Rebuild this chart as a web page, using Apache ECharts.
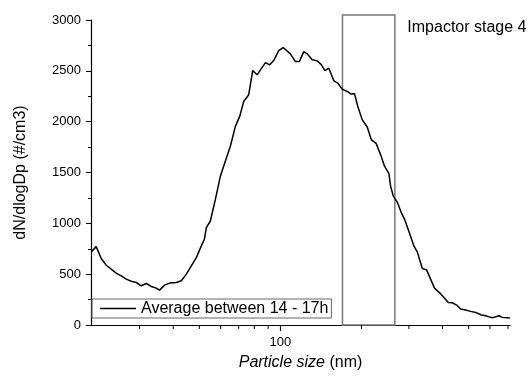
<!DOCTYPE html>
<html>
<head>
<meta charset="utf-8">
<script src="https://cdn.jsdelivr.net/npm/echarts@6/dist/echarts.min.js"></script>
<style>html,body{margin:0;padding:0;background:#fff}#c{width:529px;height:376px}</style>
</head>
<body>
<div id="c"></div>
<script>
// Particle diameters (nm)
const sizes = [19.84, 20.7, 21.61, 22.56, 23.53, 24.56, 25.64, 26.77, 27.93, 29.15, 30.43, 31.76, 33.14, 34.59, 35.58, 37.15, 38.77, 41.06, 42.85, 44.74, 46.69, 48.73, 50.85, 52.2, 53.08, 54.94, 57.35, 59.84, 61.55, 65.18, 68.04, 70.6, 73.06, 76.25, 78.89, 81.92, 87.95, 91.26, 94.43, 98.56, 102.3, 103.5, 108.9, 113.7, 117.6, 122.1, 125.7, 131.2, 137.0, 142.1, 146.2, 151.3, 157.9, 163.3, 169.6, 177.0, 183.2, 188.4, 193.8, 201.2, 210.1, 217.4, 226.9, 235.4, 243.6, 252.8, 256.5, 262.5, 271.6, 281.1, 289.1, 302.5, 313.0, 322.3, 336.4, 349.0, 361.2, 373.8, 391.1, 404.7, 420.2, 434.9, 451.2, 466.9, 487.3, 508.6, 530.9, 554.1, 578.3, 603.6, 620.9, 648.0, 667.1, 696.3, 711.0];
// dN/dlogDp (#/cm3), average between 14 - 17h
const conc = [719, 771, 654, 588, 549, 510, 484, 451, 431, 418, 386, 408, 379, 363, 343, 392, 412, 418, 435, 500, 582, 663, 778, 843, 957, 1023, 1235, 1464, 1562, 1758, 1954, 2052, 2199, 2265, 2503, 2461, 2581, 2559, 2601, 2699, 2729, 2723, 2667, 2591, 2591, 2689, 2667, 2608, 2598, 2559, 2503, 2526, 2402, 2379, 2320, 2297, 2271, 2275, 2150, 2020, 1948, 1824, 1784, 1676, 1562, 1490, 1366, 1268, 1209, 1105, 1039, 892, 778, 719, 556, 542, 451, 360, 314, 271, 222, 219, 196, 157, 147, 134, 124, 101, 91, 75, 75, 91, 75, 72, 70];
const seriesName = 'Average between 14 - 17h';
// x-axis tick values (log axis), labelled tick
const xTicks = [30, 40, 50, 60, 70, 80, 90, 100, 200, 300, 400, 500, 600, 700];
const xLabelled = [100];
// impactor stage 4 size range (nm) and box top value
const stageRange = [170, 266];
const stageTop = 3050;
const stageLabel = 'Impactor stage 4';
const yTicks = { min: 0, max: 3000, interval: 500 };

const FONT = 'Liberation Sans, Arial, Helvetica, sans-serif';
const chart = echarts.init(document.getElementById('c'), null, { renderer: 'canvas' });

chart.setOption({
  animation: false,
  backgroundColor: '#fff',
  textStyle: { fontFamily: FONT, color: '#000' },
  grid: { left: 91, right: 19, top: 20, bottom: 50 },
  legend: {
    data: [{ name: seriesName, icon: 'rect' }],
    left: 92, top: 299,
    orient: 'horizontal',
    itemWidth: 36, itemHeight: 1.5,
    padding: [1, 3, 1, 8],
    borderColor: '#666', borderWidth: 1,
    itemStyle: { color: '#000' },
    textStyle: { fontFamily: FONT, fontSize: 16, color: '#000', lineHeight: 17 },
    selectedMode: false
  },
  xAxis: {
    type: 'log', logBase: 10, min: 19.8, max: 712,
    name: '{i|Particle size} (nm)',
    nameLocation: 'middle', nameGap: 30,
    nameTextStyle: { fontFamily: FONT, fontSize: 16, color: '#000',
      rich: { i: { fontStyle: 'italic', fontFamily: FONT, fontSize: 16, color: '#000' } } },
    axisLine: { show: true, onZero: false, lineStyle: { color: '#000', width: 1.2 } },
    axisTick: { show: false },
    minorTick: { show: false },
    splitLine: { show: false },
    axisLabel: {
      fontFamily: FONT, fontSize: 13, color: '#000', margin: 11,
      showMinLabel: false, showMaxLabel: false,
      formatter: v => xLabelled.some(t => Math.abs(v - t) < 1e-6) ? String(Math.round(v)) : ''
    }
  },
  yAxis: {
    type: 'value', min: yTicks.min, max: yTicks.max, interval: yTicks.interval,
    name: 'dN/dlogDp (#/cm3)',
    nameLocation: 'middle', nameGap: 62, nameRotate: 90,
    nameTextStyle: { fontFamily: FONT, fontSize: 16, color: '#000' },
    axisLine: { show: true, lineStyle: { color: '#000', width: 1.2 } },
    axisTick: { show: true, inside: false, length: 5, lineStyle: { color: '#000', width: 1 } },
    minorTick: { show: true, splitNumber: 2, length: 3, lineStyle: { color: '#000', width: 1 } },
    splitLine: { show: false },
    axisLabel: { fontFamily: FONT, fontSize: 13, color: '#000', margin: 10, formatter: v => String(v) }
  },
  series: [
    {
      name: seriesName,
      type: 'line',
      symbol: 'none',
      showSymbol: false,
      lineStyle: { color: '#000', width: 1.5 },
      itemStyle: { color: '#000' },
      data: sizes.map((s, i) => [s, conc[i]]),
      z: 3
    },
    {
      name: 'xticks',
      type: 'custom',
      clip: false,
      silent: true,
      data: xTicks.map(v => [v, 0]),
      renderItem: (params, api) => {
        const v = api.value(0);
        const p = api.coord([v, 0]);
        const major = xLabelled.some(t => Math.abs(v - t) < 1e-6);
        const len = major ? 6 : 4;
        return { type: 'line', shape: { x1: p[0], y1: p[1], x2: p[0], y2: p[1] + len },
          style: { stroke: '#000', lineWidth: 1 } };
      },
      z: 4
    },
    {
      name: 'stage',
      type: 'custom',
      clip: false,
      silent: true,
      data: [[stageRange[0], stageRange[1], stageTop]],
      renderItem: (params, api) => {
        const a = api.coord([api.value(0), 0]);
        const b = api.coord([api.value(1), api.value(2)]);
        return {
          type: 'group',
          children: [
            { type: 'rect', shape: { x: a[0], y: b[1], width: b[0] - a[0], height: a[1] - b[1] },
              style: { fill: 'none', stroke: '#777', lineWidth: 1.5 } },
            { type: 'text', x: b[0] + 12.5, y: b[1] + 13,
              style: { text: stageLabel, fontFamily: FONT, fontSize: 16, fill: '#000',
                textAlign: 'left', textVerticalAlign: 'middle', verticalAlign: 'middle' } }
          ]
        };
      },
      z: 2
    }
  ]
});
</script>
</body>
</html>
